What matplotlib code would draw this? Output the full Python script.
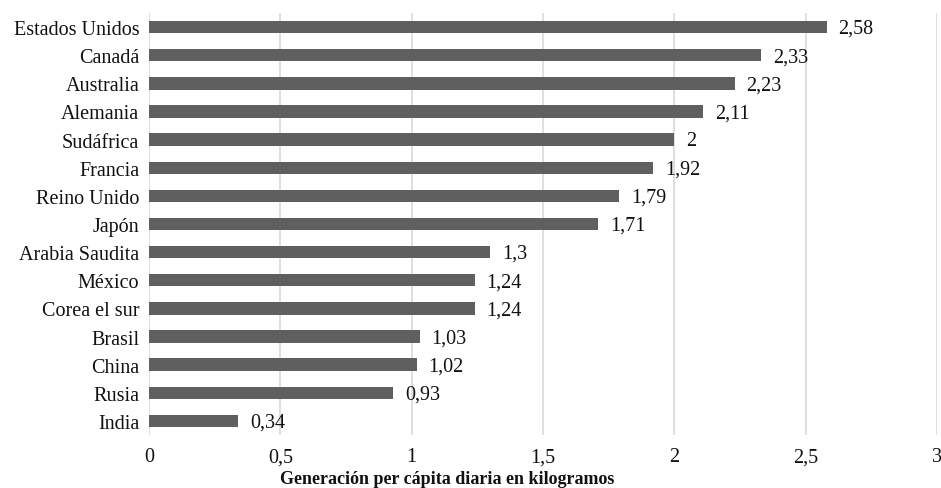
import matplotlib
matplotlib.use("Agg")
import matplotlib.pyplot as plt

countries = ["Estados Unidos", "Canadá", "Australia", "Alemania", "Sudáfrica",
             "Francia", "Reino Unido", "Japón", "Arabia Saudita", "México",
             "Corea el sur", "Brasil", "China", "Rusia", "India"]
values = [2.58, 2.33, 2.23, 2.11, 2.0, 1.92, 1.79, 1.71, 1.3, 1.24,
          1.24, 1.03, 1.02, 0.93, 0.34]
xticks = [0, 0.5, 1, 1.5, 2, 2.5, 3]
xticklabels = ["0", "0,5", "1", "1,5", "2", "2,5", "3"]

plt.rcParams["font.family"] = ["Liberation Serif", "DejaVu Serif"]

fig = plt.figure(figsize=(9.41, 4.89), dpi=100)
ax = fig.add_axes([0.1583, 0.1084, 0.8374, 0.8630])

ypos = list(range(len(countries)))
ax.barh(ypos, values, height=0.44, color="#5f5f5f", zorder=3)

fs = 14.5
for y, v in zip(ypos, values):
    label = f"{v:g}".replace(".", ",")
    ax.text(v + 0.045, y + 0.05, label, va="center", ha="left", fontsize=fs,
            color="#111111", zorder=4)

ax.set_ylim(len(countries) - 0.5, -0.5)
ax.set_xlim(0, 3)
ax.set_yticks(ypos)
ax.set_yticklabels(countries, fontsize=fs, color="#111111")
ax.set_xticks(xticks)
ax.set_xticklabels(xticklabels, fontsize=fs, color="#111111")
ax.tick_params(axis="both", length=0)
ax.tick_params(axis="y", pad=7)
ax.tick_params(axis="x", pad=9)

ax.grid(axis="x", color="#d9d9d9", linewidth=1.2, zorder=0)
for s in ax.spines.values():
    s.set_visible(False)

ax.set_xlabel("Generación per cápita diaria en kilogramos", fontsize=13,
              fontweight="bold", color="#111111")
ax.xaxis.set_label_coords(0.378, -0.084)
ax.xaxis.label.set_va("top")

fig.savefig("out.png", dpi=100)
